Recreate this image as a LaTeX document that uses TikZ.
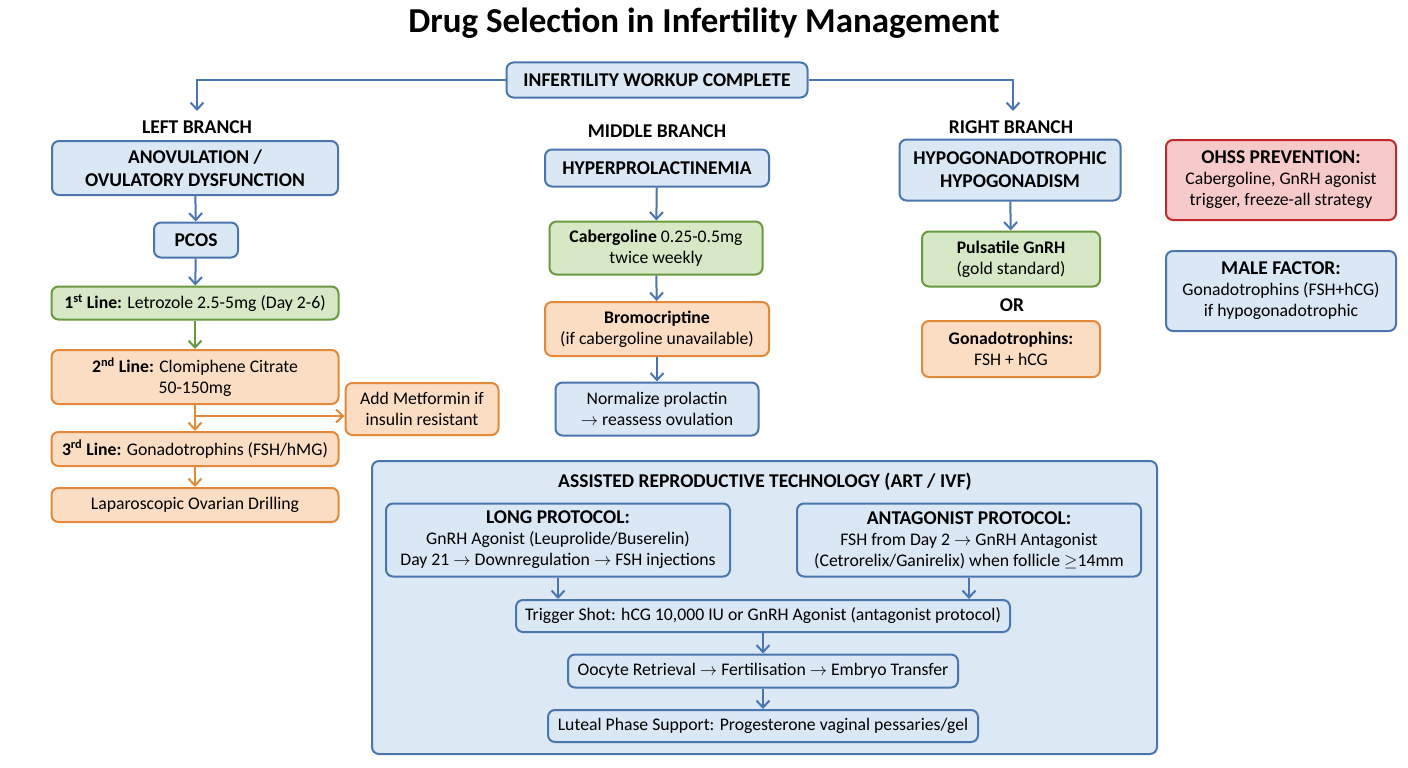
\documentclass[tikz,border=0pt]{standalone}
\usepackage{fontspec}
\setmainfont{Carlito}
\usetikzlibrary{arrows.meta,positioning}
\definecolor{bfill}{HTML}{DAE7F4}
\definecolor{bdraw}{HTML}{4A76AF}
\definecolor{gfill}{HTML}{D6E8C6}
\definecolor{gdraw}{HTML}{6A9A40}
\definecolor{ofill}{HTML}{FBDDC4}
\definecolor{odraw}{HTML}{E2893A}
\definecolor{rfill}{HTML}{F7CACA}
\definecolor{rdraw}{HTML}{C0282B}
\definecolor{artfill}{HTML}{DCE8F4}
\newcommand{\capsfont}{\fontsize{19.5}{23}\selectfont\bfseries}
\tikzset{
  box/.style={rounded corners=7pt, line width=2pt, align=center, inner sep=0pt,
    font=\fontsize{17.7}{21}\selectfont},
  bluebox/.style={box, draw=bdraw, fill=bfill},
  greenbox/.style={box, draw=gdraw, fill=gfill},
  orangebox/.style={box, draw=odraw, fill=ofill},
  redbox/.style={box, draw=rdraw, fill=rfill},
  lbl/.style={font=\capsfont},
  arr/.style={line width=2pt, -{Straight Barb[length=7pt,width=13pt,line width=2pt]}},
  barr/.style={arr, draw=bdraw},
  garr/.style={arr, draw=gdraw},
  oarr/.style={arr, draw=odraw},
}
\begin{document}
\begin{tikzpicture}[x=1pt,y=-1pt]
\useasboundingbox (0,0) rectangle (1408,768);
\fill[white] (0,0) rectangle (1408,768);
% title
\node[font=\fontsize{35}{40}\selectfont\bfseries] (title) at (704,23) {Drug Selection in Infertility Management};
% top
\node[bluebox, font=\capsfont, minimum width=301, minimum height=35] (top) at (657,80) {INFERTILITY WORKUP COMPLETE};
\coordinate (lend) at (197,111);
\coordinate (rend) at (1013,111);
\draw[barr] (top.west) -| (lend);
\draw[barr] (top.east) -| (rend);
% branch labels
\node[lbl] (lbl1) at (197,127) {LEFT BRANCH};
\node[lbl] (lbl2) at (657,131) {MIDDLE BRANCH};
\node[lbl] (lbl3) at (1011,127) {RIGHT BRANCH};
% left
\node[bluebox, font=\capsfont, minimum width=286, minimum height=54] (anov) at (195,168) {ANOVULATION /\\OVULATORY DYSFUNCTION};
\node[bluebox, font=\capsfont, minimum width=84, minimum height=35] (pcos) at (196,240) {PCOS};
\node[greenbox, minimum width=287, minimum height=33] (l1) at (195,303) {\textbf{1\textsuperscript{st} Line:} Letrozole 2.5-5mg (Day 2-6)};
\node[orangebox, minimum width=287, minimum height=54] (l2) at (195,377) {\textbf{2\textsuperscript{nd} Line:} Clomiphene Citrate\\50-150mg};
\node[orangebox, minimum width=153, minimum height=52] (met) at (422,409) {Add Metformin if\\insulin resistant};
\node[orangebox, minimum width=287, minimum height=34] (l3) at (195,449) {\textbf{3\textsuperscript{rd} Line:} Gonadotrophins (FSH/hMG)};
\node[orangebox, minimum width=287, minimum height=34] (lap) at (195,505) {Laparoscopic Ovarian Drilling};
\draw[barr] (anov) -- (pcos);
\draw[barr] (pcos) -- (l1);
\draw[garr] (l1) -- (l2);
\draw[oarr] (l2) -- (l3);
\coordinate (mb) at (195,416);
\draw[oarr] (mb) -- (mb -| met.west);
\draw[oarr] (l3) -- (lap);
% middle
\node[bluebox, font=\capsfont, minimum width=224, minimum height=37] (hyper) at (657,168) {HYPERPROLACTINEMIA};
\node[greenbox, minimum width=213, minimum height=53] (cab) at (656,248) {\textbf{Cabergoline} 0.25-0.5mg\\twice weekly};
\node[orangebox, minimum width=224, minimum height=54] (bromo) at (657,329) {\textbf{Bromocriptine}\\(if cabergoline unavailable)};
\node[bluebox, minimum width=203, minimum height=53] (norm) at (657,409) {Normalize prolactin\\$\rightarrow$ reassess ovulation};
\draw[barr] (hyper) -- (cab);
\draw[barr] (cab) -- (bromo);
\draw[barr] (bromo) -- (norm);
% right
\node[bluebox, font=\capsfont, minimum width=221, minimum height=61] (hypo) at (1010,170) {HYPOGONADOTROPHIC\\HYPOGONADISM};
\node[greenbox, minimum width=178, minimum height=55] (puls) at (1011,259) {\textbf{Pulsatile GnRH}\\(gold standard)};
\node[lbl] (or) at (1012,305) {OR};
\node[orangebox, minimum width=178, minimum height=56] (gona) at (1011,349) {\textbf{Gonadotrophins:}\\FSH + hCG};
\draw[barr] (hypo) -- (puls);
% far right
\node[redbox, minimum width=230, minimum height=80] (ohss) at (1281,180) {{\capsfont OHSS PREVENTION:}\\Cabergoline, GnRH agonist\\trigger, freeze-all strategy};
\node[bluebox, minimum width=230, minimum height=80] (male) at (1281,291) {{\capsfont MALE FACTOR:}\\Gonadotrophins (FSH+hCG)\\if hypogonadotrophic};
% ART
\node[bluebox, fill=artfill, minimum width=785, minimum height=293] (art) at (764.5,607.5) {};
\node[lbl] (arttitle) at (765,482) {ASSISTED REPRODUCTIVE TECHNOLOGY (ART / IVF)};
\node[bluebox, minimum width=344, minimum height=73] (long) at (558,540) {{\capsfont LONG PROTOCOL:}\\GnRH Agonist (Leuprolide/Buserelin)\\Day 21 $\rightarrow$ Downregulation $\rightarrow$ FSH injections};
\node[bluebox, minimum width=344, minimum height=73] (anta) at (969,540) {{\capsfont ANTAGONIST PROTOCOL:}\\FSH from Day 2 $\rightarrow$ GnRH Antagonist\\(Cetrorelix/Ganirelix) when follicle $\geq$14mm};
\node[bluebox, minimum width=494, minimum height=32] (trig) at (763,616) {Trigger Shot: hCG 10,000 IU or GnRH Agonist (antagonist protocol)};
\node[bluebox, minimum width=390, minimum height=33] (oocyte) at (763,671) {Oocyte Retrieval $\rightarrow$ Fertilisation $\rightarrow$ Embryo Transfer};
\node[bluebox, minimum width=430, minimum height=32] (lut) at (763,726) {Luteal Phase Support: Progesterone vaginal pessaries/gel};
\draw[barr] (long.south) -- (long.south |- trig.north);
\draw[barr] (anta.south) -- (anta.south |- trig.north);
\draw[barr] (trig) -- (oocyte);
\draw[barr] (oocyte) -- (lut);
\end{tikzpicture}
\end{document}
